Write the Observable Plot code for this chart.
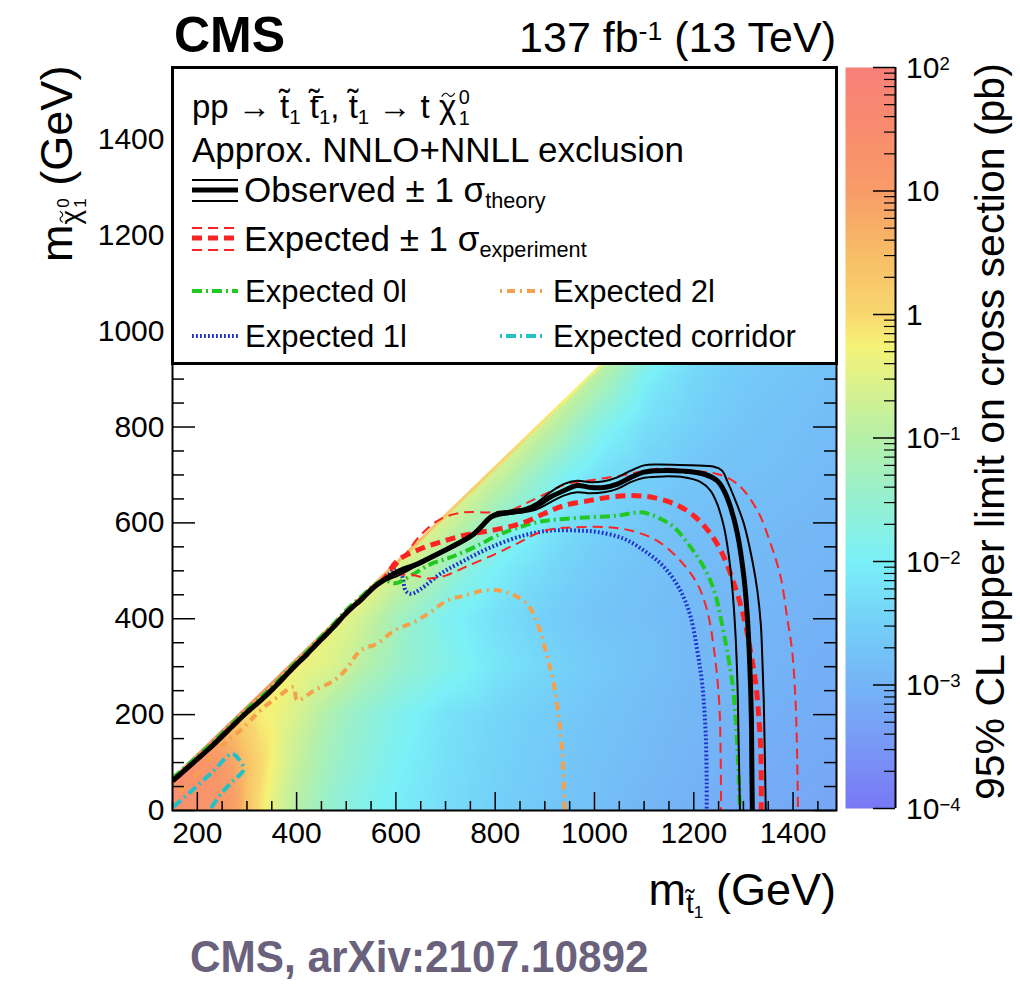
<!DOCTYPE html>
<html>
<head>
<meta charset="utf-8">
<script src="https://cdn.jsdelivr.net/npm/d3@7"></script>
<script src="https://cdn.jsdelivr.net/npm/@observablehq/plot@0.6"></script>
<style>
html,body{margin:0;padding:0;background:#fff;}
#root{position:relative;width:1020px;height:996px;overflow:hidden;background:#fff;font-family:"Liberation Sans",Arial,Helvetica,sans-serif;color:#000;}
.abs{position:absolute;white-space:nowrap;line-height:1;}
.abs sub,.abs sup{line-height:0;font-size:0.62em;}
.abs sub{vertical-align:-0.28em;}
.abs sup{vertical-align:0.45em;}
.ss{position:relative;display:inline-block;width:0.62em;height:0;font-size:0.6em;margin-left:0.08em;}
.ss .s0{position:absolute;left:0.05em;bottom:0.62em;line-height:0.8;}
.ss .s1{position:absolute;left:0.05em;top:-0.36em;line-height:0.8;}
.sb{font-size:0.62em;vertical-align:-0.3em;line-height:0;}
.acc{position:relative;display:inline-block;line-height:1;}
.acc svg{position:absolute;left:0.06em;top:0.06em;width:0.44em;height:0.17em;overflow:visible;}
</style>
</head>
<body>
<div id="root"></div>
<script>
// ---------------- data ----------------
const xDomain = [150, 1487.5];
const yDomain = [0, 1550];
const xTickLabels = [200, 400, 600, 800, 1000, 1200, 1400];
const yTickLabels = [0, 200, 400, 600, 800, 1000, 1200, 1400];
const colorbarExponents = [-4, -3, -2, -1, 0, 1, 2];

// colour palette stops (exponent of the limit in pb -> colour)
const paletteExp = [-4, -3.5, -3, -2.5, -2, -1.5, -1, -0.5, -0.25, 0, 0.5, 1, 1.5, 2];
const paletteColors = ["#7878f5", "#7898f6", "#74b4f6", "#74d0f8", "#7af0f8", "#96f0d0", "#b6f0a8",
  "#e0f288", "#f6f276", "#f8d870", "#f8bc66", "#f89c68", "#f88c6e", "#f8807a"];

// sampled log10(95% CL limit / pb) of the 2D map, row by row in m_LSP
const heatRowsY = [0, 100, 200, 300, 400, 500, 600, 700, 800, 900, 1000, 1200, 1400];
const heatRowsX = [
  [150,200,250,280,300,320,340,370,400,450,500,550,600,700,800,900,1000,1100,1200,1300,1400,1487.5],
  [190,230,270,300,330,360,400,450,500,600,700,800,900,1000,1200,1487.5],
  [290,320,360,400,450,500,600,700,800,900,1000,1200,1487.5],
  [390,420,460,500,550,600,700,800,900,1000,1200,1487.5],
  [490,520,560,600,650,700,800,900,1000,1200,1487.5],
  [590,620,660,700,750,800,900,1000,1100,1200,1487.5],
  [690,720,760,800,850,900,1000,1100,1200,1487.5],
  [790,820,860,900,950,1000,1100,1200,1487.5],
  [890,920,960,1000,1050,1100,1200,1300,1487.5],
  [990,1020,1060,1100,1150,1200,1300,1487.5],
  [1090,1150,1200,1300,1487.5],
  [1290,1350,1487.5],
  [1487.5]
];
const heatRowsLogLimit = [
  [1.4,1.3,1.1,0.9,0.4,0.0,-0.3,-0.7,-1.0,-1.4,-1.7,-1.9,-2.05,-2.3,-2.5,-2.65,-2.8,-2.95,-3.05,-3.15,-3.2,-3.25],
  [1.4,1.2,0.9,0.4,0.0,-0.4,-0.8,-1.2,-1.5,-1.95,-2.25,-2.45,-2.6,-2.75,-3.0,-3.2],
  [0.1,-0.15,-0.35,-0.6,-1.0,-1.35,-1.85,-2.2,-2.4,-2.55,-2.7,-2.95,-3.15],
  [-0.3,-0.4,-0.5,-0.75,-1.1,-1.4,-1.8,-2.15,-2.4,-2.6,-2.9,-3.1],
  [-0.45,-0.6,-0.9,-1.25,-1.6,-1.9,-2.25,-2.5,-2.7,-2.9,-3.05],
  [-0.55,-0.7,-1.0,-1.35,-1.75,-2.0,-2.35,-2.6,-2.75,-2.85,-3.0],
  [-0.6,-0.8,-1.15,-1.5,-1.85,-2.1,-2.45,-2.65,-2.8,-2.95],
  [-0.65,-0.85,-1.25,-1.6,-1.95,-2.2,-2.5,-2.7,-2.9],
  [-0.7,-0.95,-1.35,-1.7,-2.0,-2.25,-2.5,-2.7,-2.85],
  [-0.85,-1.15,-1.55,-1.95,-2.2,-2.4,-2.6,-2.8],
  [-1.0,-1.8,-2.2,-2.5,-2.75],
  [-1.2,-2.0,-2.6],
  [-1.4]
];

// upper kinematic edge of the scanned grid
const gridEdgeX = [150, 1487.5];
const gridEdgeY = [68, 1405.5];

// common path along the diagonal
const diagonalX = [150, 165, 190, 227, 260, 300, 327, 360, 394, 420, 441, 470, 502, 530, 556];
const diagonalY = [62, 75, 98, 132, 165, 205, 229, 262, 299, 325, 348, 378, 414, 440, 466];
const zeroLepDiagY = [68, 81, 104, 138, 171, 211, 235, 268, 305, 331, 354, 384, 420, 446, 470];

const observedX = [575,589,616,643,670,697,723,757,791,804,831,858,885,911,938,965,992,1019,1046,1073,1100,1126,1180,1220,1247,1261,1274,1288,1301,1308,1313,1316,1317,1318];
const observedY = [480,490,504,514,528,542,556,577,612,619,622,626,636,654,667,678,674,674,681,695,706,709,708,702,688,667,633,577,487,403,299,195,90,0];
const observedUpX = [575,600,643,697,757,791,831,858,885,911,938,965,992,1019,1046,1073,1100,1126,1194,1241,1257,1267,1281,1301,1318,1328,1335,1338,1341,1343,1345];
const observedUpY = [482,495,517,545,580,614,626,630,643,664,681,688,685,687,695,709,720,722,720,717,709,688,654,598,521,459,389,320,229,125,0];
const observedDnX = [575,600,643,697,757,791,831,858,885,911,938,965,992,1019,1046,1073,1100,1140,1180,1214,1234,1247,1261,1271,1278,1284,1288,1290,1293];
const observedDnY = [478,488,511,539,574,609,619,622,629,643,657,664,662,664,671,685,694,697,695,685,667,640,591,528,459,368,264,160,0];

const expectedX = [575,603,650,690,737,811,858,898,938,992,1032,1073,1113,1160,1200,1234,1261,1281,1301,1314,1325,1331,1335,1336,1336];
const expectedY = [482,521,546,560,574,588,601,619,636,647,654,657,654,640,615,577,528,473,403,334,264,195,125,56,0];
const expectedUpX = [575,600,620,650,690,737,790,830,860,900,940,1000,1060,1126,1194,1247,1288,1328,1355,1375,1388,1398,1405,1408,1410];
const expectedUpY = [485,510,535,575,608,622,622,626,640,660,680,690,700,713,709,702,681,626,556,487,403,334,229,125,0];
const expectedDnX = [570,600,630,665,700,740,800,850,891,930,965,1026,1073,1126,1173,1207,1227,1241,1251,1254,1255];
const expectedDnY = [476,490,492,484,490,508,535,560,581,589,591,591,584,563,521,473,417,334,229,125,0];

const zeroLepX = [575,600,630,670,710,757,811,858,898,938,992,1046,1093,1126,1160,1194,1220,1241,1254,1267,1278,1284,1288,1291,1293];
const zeroLepY = [480,474,490,514,528,549,577,594,604,608,612,615,622,612,591,549,508,459,403,334,264,195,125,56,0];
const oneLepX = [535,560,585,600,612,620,630,650,690,737,791,858,912,965,1006,1059,1100,1140,1173,1194,1207,1217,1224,1226,1226];
const oneLepY = [450,470,492,505,490,458,452,462,494,521,549,574,584,584,581,567,542,508,459,403,334,264,160,56,0];
const twoLepX = [165,200,247,294,327,361,394,401,435,475,500,529,562,596,636,670,703,737,784,824,864,888,905,918,928,935,938,940];
const twoLepY = [40,78,132,174,209,236,257,230,250,271,295,334,348,375,393,414,438,448,460,455,431,382,320,264,195,125,56,0];
const corridorX = [152,190,230,270,285,293,270,248,226];
const corridorY = [8,42,80,118,105,85,60,35,3];

// ---------------- build tables ----------------
const heatTable = heatRowsY.flatMap((y, r) => heatRowsX[r].map((x, i) => ({x, y, v: heatRowsLogLimit[r][i]})));
const pts = (xs, ys) => xs.map((x, i) => ({x, y: ys[i]}));
const alongDiagonal = (xs, ys, dys = diagonalY) => pts(diagonalX.concat(xs), dys.concat(ys));
const edgeTable = pts(gridEdgeX, gridEdgeY);

const W = 1020, H = 996, mL = 172, mR = 184, mT = 67, mB = 186;
const frameW = W - mL - mR, frameH = H - mT - mB;
const colorScale = {type: "linear", domain: paletteExp, range: paletteColors, interpolate: "rgb", clamp: true};

const RED = "#ff2222", GREEN = "#22c822", BLUE = "#1f2fd0", ORANGE = "#f5a04a", CYAN = "#20c2c8";
const lineOpts = (stroke, w, dash) => ({x: "x", y: "y", stroke, strokeWidth: w, strokeDasharray: dash ?? undefined,
  strokeLinecap: "butt", strokeLinejoin: "round", curve: "catmull-rom", clip: true});

const xMinor = d3.range(150, 1487.5, 50).filter(v => v % 200 !== 0);
const yMinor = d3.range(50, 1550, 50).filter(v => v % 200 !== 0);

const main = Plot.plot({
  width: W, height: H, marginLeft: mL, marginRight: mR, marginTop: mT, marginBottom: mB,
  style: {fontFamily: "'Liberation Sans', Arial, sans-serif", fontSize: "30px", color: "black", background: "transparent"},
  x: {domain: xDomain, label: null},
  y: {domain: yDomain, label: null},
  color: colorScale,
  marks: [
    Plot.raster(heatTable, {x: "x", y: "y", fill: "v", interpolate: "barycentric",
      x1: xDomain[0], x2: xDomain[1], y1: yDomain[0], y2: yDomain[1]}),
    Plot.areaY(edgeTable, {x: "x", y1: "y", y2: yDomain[1], fill: "white"}),
    Plot.line(pts(twoLepX, twoLepY), lineOpts(ORANGE, 4, "8,5,2,5")),
    Plot.line(pts(corridorX, corridorY), lineOpts(CYAN, 4, "10,4,2,4")),
    Plot.line(pts(oneLepX, oneLepY), lineOpts(BLUE, 4, "1.8,2.2")),
    Plot.line(alongDiagonal(zeroLepX, zeroLepY, zeroLepDiagY), lineOpts(GREEN, 4, "10,4,2,4")),
    Plot.line(alongDiagonal(expectedUpX, expectedUpY), lineOpts(RED, 2, "10,6")),
    Plot.line(alongDiagonal(expectedDnX, expectedDnY), lineOpts(RED, 2, "10,6")),
    Plot.line(alongDiagonal(expectedX, expectedY), lineOpts(RED, 5, "10,6")),
    Plot.line(alongDiagonal(observedUpX, observedUpY), lineOpts("black", 2)),
    Plot.line(alongDiagonal(observedDnX, observedDnY), lineOpts("black", 2)),
    Plot.line(alongDiagonal(observedX, observedY), lineOpts("black", 5)),
    // ROOT-style inward ticks on all four sides
    Plot.ruleX(xTickLabels, {stroke: "black", strokeWidth: 1.5, insetTop: frameH - 18}),
    Plot.ruleX(xMinor, {stroke: "black", strokeWidth: 1.5, insetTop: frameH - 9}),
    Plot.ruleX(xTickLabels, {stroke: "black", strokeWidth: 1.5, insetBottom: frameH - 18}),
    Plot.ruleX(xMinor, {stroke: "black", strokeWidth: 1.5, insetBottom: frameH - 9}),
    Plot.ruleY(yTickLabels, {stroke: "black", strokeWidth: 1.5, insetRight: frameW - 23}),
    Plot.ruleY(yMinor, {stroke: "black", strokeWidth: 1.5, insetRight: frameW - 12}),
    Plot.ruleY(yTickLabels, {stroke: "black", strokeWidth: 1.5, insetLeft: frameW - 23}),
    Plot.ruleY(yMinor, {stroke: "black", strokeWidth: 1.5, insetLeft: frameW - 12}),
    Plot.frame({stroke: "black", strokeWidth: 2}),
    Plot.axisX({ticks: xTickLabels, tickFormat: d => String(d), tickSize: 0, tickPadding: 11, label: null}),
    Plot.axisY({ticks: yTickLabels, tickFormat: d => String(d), tickSize: 0, tickPadding: 8, label: null})
  ]
});
const root = document.getElementById("root");
main.style.position = "absolute"; main.style.left = "0px"; main.style.top = "0px";
root.appendChild(main);

// ---------------- colour bar ----------------
const cbW = 50, cbH = 741;
const cbMinor = d3.range(-4, 2).flatMap(d => d3.range(2, 10).map(k => d + Math.log10(k)));
const cbar = Plot.plot({
  width: cbW + 12, height: cbH + 4, marginLeft: 0, marginRight: 12, marginTop: 2, marginBottom: 2,
  style: {background: "transparent"},
  x: {domain: [0, 1], axis: null},
  y: {domain: [colorbarExponents[0], colorbarExponents[colorbarExponents.length - 1]], axis: null},
  color: colorScale,
  marks: [
    Plot.raster({fill: (x, y) => y, x1: 0, x2: 1, y1: -4, y2: 2}),
    Plot.ruleY(colorbarExponents, {stroke: "black", strokeWidth: 1.5, insetLeft: cbW - 22}),
    Plot.ruleY(cbMinor, {stroke: "black", strokeWidth: 1.2, insetLeft: cbW - 11}),
    Plot.ruleX([1], {stroke: "black", strokeWidth: 2})
  ]
});
const cbLeft = 845, cbTop = 65;
cbar.style.position = "absolute"; cbar.style.left = cbLeft + "px"; cbar.style.top = cbTop + "px";
root.appendChild(cbar);

// ---------------- text helpers ----------------
function place(html, x, base, size, extra = "", right = false) {
  const d = document.createElement("div");
  d.className = "abs";
  d.style.cssText = `${right ? "right:" + (W - x) : "left:" + x}px;top:${base - 0.8465 * size}px;font-size:${size}px;${extra}`;
  d.innerHTML = html;
  root.appendChild(d);
  return d;
}
const stop = "t\u0303";
const astop = "t\u0303\u0304";
// chi with a drawn tilde accent (vector, not a glyph)
const chi = `<span class="acc">\u03c7<svg viewBox="0 0 10 4" preserveAspectRatio="none"><path d="M0.5,3.3 C2.2,0.2 4,0.4 5,2 C6,3.6 7.8,3.8 9.5,0.7" fill="none" stroke="currentColor" stroke-width="1.1" vector-effect="non-scaling-stroke"/></svg></span>`;
const stack = (a, b) => `<span class="ss"><span class="s0">${a}</span><span class="s1">${b}</span></span>`;

// colour-bar labels via the colour-bar plot's own y scale
const ys = cbar.scale("y");
colorbarExponents.forEach(e => {
  const py = cbTop + ys.apply(e);
  const lab = e === 0 ? "1" : e === 1 ? "10" : `10<sup>${e < 0 ? "−" + (-e) : e}</sup>`;
  place(lab, 906, py + 11, 30);
});

// colour-bar title (rotated)
const cbt = place("95% CL upper limit on cross section (pb)", 0, 0, 41);
cbt.style.left = "970px"; cbt.style.top = "800px";
cbt.style.transformOrigin = "0 0"; cbt.style.transform = "rotate(-90deg)";

// header
place("CMS", 174, 52, 50, "font-weight:bold;");
place("137 fb<sup>-1</sup> (13 TeV)", 836, 52, 43, "", true);

// axis titles
place(`m<span class="sb">${stop}<sub>1</sub></span> (GeV)`, 836, 905, 45, "", true);
const yt = place(`m<span class="sb">${chi}${stack("0", "1")}</span> (GeV)`, 0, 0, 45);
yt.style.left = "34px"; yt.style.top = "262px";
yt.style.transformOrigin = "0 0"; yt.style.transform = "rotate(-90deg)";

// legend box
const box = document.createElement("div");
box.style.cssText = "position:absolute;left:171px;top:66px;width:667px;height:299px;border:3px solid #000;background:#fff;box-sizing:border-box;";
root.appendChild(box);

const swatches = [
  {x1: 192, x2: 238, y: 180, c: "black", w: 2, d: null},
  {x1: 192, x2: 238, y: 190, c: "black", w: 5, d: null},
  {x1: 192, x2: 238, y: 201, c: "black", w: 2, d: null},
  {x1: 192, x2: 238, y: 228, c: RED, w: 2, d: "10,6"},
  {x1: 192, x2: 238, y: 238, c: RED, w: 5, d: "10,6"},
  {x1: 192, x2: 238, y: 250, c: RED, w: 2, d: "10,6"},
  {x1: 192, x2: 238, y: 291, c: GREEN, w: 4, d: "10,4,2,4"},
  {x1: 192, x2: 238, y: 336, c: BLUE, w: 4, d: "1.8,2.2"},
  {x1: 500, x2: 546, y: 291, c: ORANGE, w: 4, d: "2,5,8,5"},
  {x1: 500, x2: 546, y: 336, c: CYAN, w: 4, d: "2,4,10,4"}
];
const svgNS = "http://www.w3.org/2000/svg";
const lsvg = document.createElementNS(svgNS, "svg");
lsvg.setAttribute("width", W); lsvg.setAttribute("height", 400);
lsvg.style.cssText = "position:absolute;left:0;top:0;";
swatches.forEach(s => {
  const l = document.createElementNS(svgNS, "line");
  l.setAttribute("x1", s.x1); l.setAttribute("x2", s.x2); l.setAttribute("y1", s.y); l.setAttribute("y2", s.y);
  l.setAttribute("stroke", s.c); l.setAttribute("stroke-width", s.w);
  if (s.d) l.setAttribute("stroke-dasharray", s.d);
  lsvg.appendChild(l);
});
root.appendChild(lsvg);

place(`pp → ${stop}<sub>1</sub> ${astop}<sub>1</sub>, ${stop}<sub>1</sub> → t ${chi}${stack("0", "1")}`, 192, 118, 33);
place("Approx. NNLO+NNLL exclusion", 192, 162, 35);
place("Observed ± 1 σ<sub>theory</sub>", 244, 202, 35);
place("Expected ± 1 σ<sub>experiment</sub>", 244, 251, 35);
place("Expected 0l", 245, 302, 31);
place("Expected 2l", 553, 302, 31);
place("Expected 1l", 245, 347, 31);
place("Expected corridor", 553, 347, 31);

// source note
place("CMS, arXiv:2107.10892", 190, 972, 45, "font-weight:bold;color:#6a627c;transform:scaleX(0.94);transform-origin:0 0;");
</script>
</body>
</html>
